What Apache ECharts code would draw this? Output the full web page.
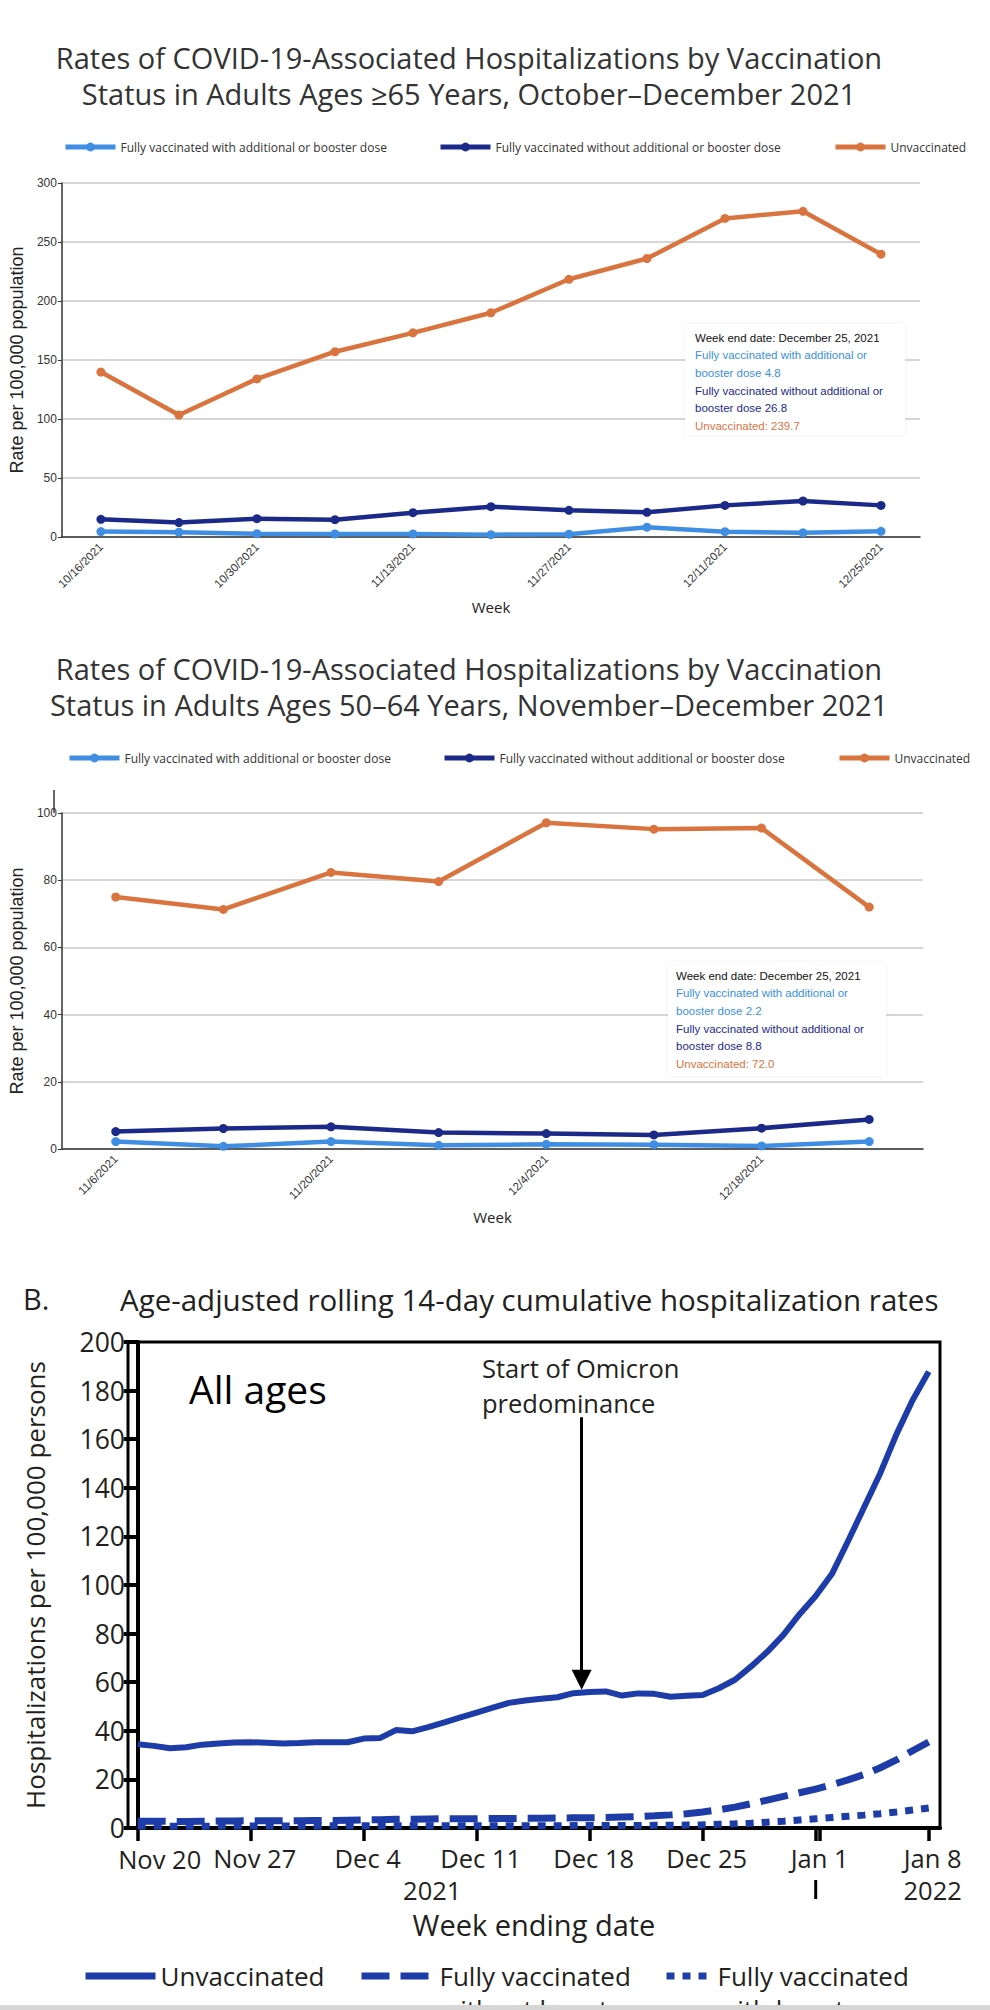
<!DOCTYPE html>
<html>
<head>
<meta charset="utf-8">
<script src="https://cdn.jsdelivr.net/npm/echarts@6/dist/echarts.min.js"></script>
<style>
html,body{margin:0;padding:0;background:#fff;}
#chart{width:990px;height:2010px;}
</style>
</head>
<body>
<div id="chart"></div>
<script>
// ---------- Chart 1: adults >=65 ----------
const cats65 = ['10/16/2021','10/23/2021','10/30/2021','11/6/2021','11/13/2021','11/20/2021','11/27/2021','12/4/2021','12/11/2021','12/18/2021','12/25/2021'];
const boost65 = [4.6, 4.1, 2.8, 2.6, 2.6, 2.0, 2.4, 8.3, 4.5, 3.5, 4.8];
const noBoost65 = [15.0, 12.2, 15.5, 14.7, 20.6, 25.7, 22.6, 20.9, 26.8, 30.5, 26.8];
const unvax65 = [139.8, 103.4, 134.0, 157.0, 173.0, 190.0, 218.4, 236.0, 270.0, 276.0, 239.7];

// ---------- Chart 2: adults 50-64 ----------
const cats50 = ['11/6/2021','11/13/2021','11/20/2021','11/27/2021','12/4/2021','12/11/2021','12/18/2021','12/25/2021'];
const boost50 = [2.2, 0.8, 2.2, 1.1, 1.4, 1.3, 0.9, 2.2];
const noBoost50 = [5.2, 6.1, 6.6, 4.9, 4.6, 4.2, 6.2, 8.8];
const unvax50 = [75.0, 71.3, 82.3, 79.6, 97.1, 95.2, 95.5, 72.0];

// ---------- Chart 3: all ages, daily (day 0 = Nov 20, 2021) ----------
const unvaxAll = [34.5,33.8,32.8,33.2,34.3,34.8,35.2,35.3,35.1,34.8,35.0,35.3,35.3,35.3,36.8,37.0,40.3,39.8,41.5,43.5,45.5,47.5,49.5,51.5,52.5,53.2,53.8,55.5,56.0,56.2,54.5,55.4,55.2,54.0,54.4,54.7,57.5,61.0,66.5,72.5,79.5,88.0,95.5,104.5,118.0,132.0,146.0,162.0,176.0,187.8];
const noBoostAll = [2.8,2.8,2.7,2.7,2.8,2.9,2.9,3.0,3.0,3.0,3.0,3.1,3.1,3.2,3.3,3.4,3.6,3.6,3.7,3.8,3.8,3.8,3.9,3.9,4.0,4.0,4.1,4.2,4.2,4.3,4.5,4.7,5.0,5.4,5.9,6.6,7.5,8.6,10.0,11.5,13.0,14.5,16.0,17.8,19.8,22.0,24.8,28.0,31.8,35.4];
const boostAll = [0.8,0.8,0.7,0.7,0.7,0.8,0.8,0.8,0.8,0.8,0.8,0.8,0.9,0.9,0.9,0.9,0.9,0.9,0.9,0.9,0.9,0.9,0.9,0.9,0.9,0.9,0.9,1.0,1.0,1.0,1.0,1.0,1.1,1.1,1.2,1.3,1.5,1.7,2.0,2.4,2.8,3.3,3.8,4.3,4.8,5.3,5.9,6.6,7.4,8.2];
const weekTickDays = [0,7,14,21,28,35,42,49];
const weekTickLabels = ['Nov 20','Nov 27','Dec 4','Dec 11','Dec 18','Dec 25','Jan 1','Jan 8'];
const yearLabels = [{day: 18, text: '2021'}, {day: 49, text: '2022'}];
const yearBreakDay = 42;
const omicronStartDay = 27.5;

const C_LIGHT = '#3f8ee4';
const C_NAVY = '#1b2a88';
const C_ORANGE = '#d9743f';
const C_BLUE3 = '#1d3ca8';

const NAME_A = 'Fully vaccinated with additional or booster dose';
const NAME_B = 'Fully vaccinated without additional or booster dose';
const NAME_C = 'Unvaccinated';
const NAME3 = ['Unvaccinated (all ages)', 'Fully vaccinated without booster', 'Fully vaccinated with booster'];

const chart = echarts.init(document.getElementById('chart'), null, {renderer: 'svg'});

const TXT = '#333';
const OS = 'Open Sans';
const HV = 'Liberation Sans';
const INK = '#231f20';
const XLAB_FONT = 25.5, XLAB_MARGIN = 17;

function lineSeries(name, data, color, xi) {
  return {
    name, type: 'line', xAxisIndex: xi, yAxisIndex: xi, data,
    symbol: 'circle', symbolSize: 9, showSymbol: true,
    lineStyle: {color, width: 4.5}, itemStyle: {color},
    emphasis: {disabled: true}, silent: true
  };
}
function topLegend(name, left, top) {
  return {
    show: true, data: [name], left, top, itemWidth: 50, itemHeight: 11, itemGap: 0,
    lineStyle: {width: 5},
    selectedMode: false, textStyle: {fontFamily: OS, fontSize: 12, color: TXT}, padding: 0
  };
}
function bottomLegend(name, label, left, w) {
  return {
    data: [name], left, top: 1963, itemWidth: w, itemHeight: 14, selectedMode: false, padding: 0,
    lineStyle: {width: 7}, itemStyle: {opacity: 0},
    formatter: () => label, textStyle: {fontFamily: OS, fontSize: 26, color: INK}
  };
}
function tipText(v1, v2, v3) {
  return '{h|Week end date: December 25, 2021}\n{a|Fully vaccinated with additional or}\n{a|booster dose ' + v1.toFixed(1) +
    '}\n{b|Fully vaccinated without additional or}\n{b|booster dose ' + v2.toFixed(1) + '}\n{c|Unvaccinated: ' + v3.toFixed(1) + '}';
}
const tipRich = {
  h: {fill: '#111', fontFamily: HV, fontSize: 11.5, lineHeight: 17.6},
  a: {fill: '#3a8fe0', fontFamily: HV, fontSize: 11.5, lineHeight: 17.6},
  b: {fill: '#1d2a8c', fontFamily: HV, fontSize: 11.5, lineHeight: 17.6},
  c: {fill: '#d9743f', fontFamily: HV, fontSize: 11.5, lineHeight: 17.6}
};

const last65 = cats65.length - 1, last50 = cats50.length - 1;

function catX(gi, catsArr, nameGap) {
  return {gridIndex: gi, type: 'category', data: catsArr, boundaryGap: true,
    axisLine: {lineStyle: {color: '#333', width: 1.5}},
    axisTick: {alignWithLabel: true, interval: 0, length: 5, lineStyle: {color: '#333'}},
    axisLabel: {interval: 1, rotate: 45, fontFamily: HV, fontSize: 11.5, color: TXT, margin: 8},
    name: 'Week', nameLocation: 'middle', nameGap,
    nameTextStyle: {fontFamily: OS, fontSize: 15, color: '#222'}};
}
function rateY(gi, max, interval) {
  return {gridIndex: gi, type: 'value', min: 0, max, interval,
    axisLine: {show: true, lineStyle: {color: '#333', width: 1.5}},
    axisTick: {show: true, length: 4, lineStyle: {color: '#333'}},
    axisLabel: {fontFamily: HV, fontSize: 12, color: TXT, margin: 5},
    splitLine: {lineStyle: {color: '#c8c8c8', width: 1.5}},
    name: 'Rate per 100,000 population', nameLocation: 'middle', nameGap: 24,
    nameTextStyle: {fontFamily: HV, fontSize: 18, color: '#222'}};
}

const option = {
  animation: false,
  backgroundColor: '#fff',
  title: [
    {text: 'Rates of COVID-19-Associated Hospitalizations by Vaccination\nStatus in Adults Ages \u226565 Years, October\u2013December 2021',
     left: 464, top: 34, textAlign: 'center',
     textStyle: {fontFamily: OS, fontSize: 29, fontWeight: 'normal', color: '#333', lineHeight: 36}},
    {text: 'Rates of COVID-19-Associated Hospitalizations by Vaccination\nStatus in Adults Ages 50\u201364 Years, November\u2013December 2021',
     left: 464, top: 645, textAlign: 'center',
     textStyle: {fontFamily: OS, fontSize: 29, fontWeight: 'normal', color: '#333', lineHeight: 36}},
    {text: 'B.', left: 18, top: 1279, textStyle: {fontFamily: OS, fontSize: 29, fontWeight: 'normal', color: INK}},
    {text: 'Age-adjusted rolling 14-day cumulative hospitalization rates', left: 115, top: 1279,
     textStyle: {fontFamily: OS, fontSize: 29.5, fontWeight: 'normal', color: INK}}
  ],
  legend: [
    topLegend(NAME_A, 63, 141),
    topLegend(NAME_B, 438, 141),
    topLegend(NAME_C, 833, 141),
    topLegend(NAME_A, 67, 752),
    topLegend(NAME_B, 442, 752),
    topLegend(NAME_C, 837, 752),
    bottomLegend(NAME3[0], 'Unvaccinated', 82, 70),
    bottomLegend(NAME3[1], 'Fully vaccinated', 358, 73),
    bottomLegend(NAME3[2], 'Fully vaccinated', 663, 46)
  ],
  grid: [
    {left: 52, top: 183, width: 868, height: 354},
    {left: 54, top: 813, width: 869, height: 336},
    {left: 128, top: 1342, width: 812, height: 486, show: true, borderColor: '#000', borderWidth: 3, backgroundColor: 'transparent'}
  ],
  xAxis: [
    catX(0, cats65, 62),
    catX(1, cats50, 60),
    {gridIndex: 2, type: 'value', min: -0.6, max: 49.7,
     axisLine: {onZero: false, lineStyle: {color: '#000', width: 4}},
     axisTick: {customValues: weekTickDays.concat([yearBreakDay + 0.25]), length: 13, lineStyle: {color: '#000', width: 3.5}},
     // first label (Nov 20) is placed separately, nudged right of its tick as in the original
     axisLabel: {customValues: weekTickDays.slice(1),
       formatter: v => '{n|' + weekTickLabels[weekTickDays.indexOf(v)] + '}',
       fontFamily: OS, fontSize: XLAB_FONT, color: INK, margin: XLAB_MARGIN,
       rich: {n: {fontFamily: OS, fontSize: XLAB_FONT, color: INK, padding: [0, 0, 0, 8]}}},
     splitLine: {show: false},
     name: 'Week ending date', nameLocation: 'middle', nameGap: 82,
     nameTextStyle: {fontFamily: OS, fontSize: 29, color: INK}}
  ],
  yAxis: [
    rateY(0, 300, 50),
    rateY(1, 100, 20),
    {gridIndex: 2, type: 'value', min: 0, max: 200, interval: 20,
     axisLine: {show: true, lineStyle: {color: '#000', width: 4}},
     axisTick: {show: true, length: 14, lineStyle: {color: '#000', width: 4}},
     axisLabel: {fontFamily: OS, fontSize: 26.5, color: INK, margin: 3},
     splitLine: {show: false},
     name: 'Hospitalizations per 100,000 persons', nameLocation: 'middle', nameGap: 80,
     nameTextStyle: {fontFamily: OS, fontSize: 26, color: INK}}
  ],
  series: [
    lineSeries(NAME_A, boost65, C_LIGHT, 0),
    lineSeries(NAME_B, noBoost65, C_NAVY, 0),
    lineSeries(NAME_C, unvax65, C_ORANGE, 0),
    lineSeries(NAME_A, boost50, C_LIGHT, 1),
    lineSeries(NAME_B, noBoost50, C_NAVY, 1),
    lineSeries(NAME_C, unvax50, C_ORANGE, 1),
    {name: NAME3[0], type: 'line', xAxisIndex: 2, yAxisIndex: 2, showSymbol: false, symbol: 'none', silent: true,
     data: unvaxAll.map((v, i) => i === unvaxAll.length - 1 ?
       {value: [i, v], label: {show: true, position: 'left', distance: 4, offset: [0, -11], formatter: v.toFixed(1), fontFamily: OS, fontSize: 24, color: INK}} : [i, v]),
     lineStyle: {color: C_BLUE3, width: 6}, itemStyle: {color: C_BLUE3},
     markLine: {silent: true, symbol: ['none', 'triangle'], symbolSize: 20, label: {show: false},
       lineStyle: {color: '#000', width: 3, type: 'solid'},
       data: [[{coord: [omicronStartDay, 169]}, {coord: [omicronStartDay, 61]}]]}},
    {name: NAME3[1], type: 'line', xAxisIndex: 2, yAxisIndex: 2, showSymbol: false, symbol: 'none', silent: true,
     data: noBoostAll.map((v, i) => i === noBoostAll.length - 1 ?
       {value: [i, v], label: {show: true, position: 'top', distance: 14, offset: [-18, 0], formatter: v.toFixed(1), fontFamily: OS, fontSize: 24, color: INK}} : [i, v]),
     lineStyle: {color: C_BLUE3, width: 7, type: [28, 11], cap: 'butt'}, itemStyle: {color: C_BLUE3}},
    {name: NAME3[2], type: 'line', xAxisIndex: 2, yAxisIndex: 2, showSymbol: false, symbol: 'none', silent: true,
     data: boostAll.map((v, i) => i === boostAll.length - 1 ?
       {value: [i, v], label: {show: true, position: 'top', distance: 8, offset: [-9, 0], formatter: v.toFixed(1), fontFamily: OS, fontSize: 24, color: INK}} : [i, v]),
     lineStyle: {color: C_BLUE3, width: 7, type: [8, 8], cap: 'butt'}, itemStyle: {color: C_BLUE3}}
  ]
};
chart.setOption(option);

// decorations placed through the axes' own scales
const y100 = chart.convertToPixel({yAxisIndex: 1}, 100);
const x3 = d => chart.convertToPixel({xAxisIndex: 2}, d);
const axis3Y = chart.convertToPixel({yAxisIndex: 2}, 0);
const graphics = [
  {type: 'group', left: 685, top: 324, z: 100, children: [
    {type: 'rect', z: 100, shape: {x: 0, y: 0, width: 220, height: 111},
     style: {fill: '#fff', shadowBlur: 4, shadowColor: 'rgba(0,0,0,0.06)'}},
    {type: 'text', z: 101, x: 10, y: 5, style: {text: tipText(boost65[last65], noBoost65[last65], unvax65[last65]), rich: tipRich}}
  ]},
  {type: 'group', left: 668, top: 962, z: 100, children: [
    {type: 'rect', z: 100, shape: {x: 0, y: 0, width: 218, height: 114},
     style: {fill: '#fff', shadowBlur: 4, shadowColor: 'rgba(0,0,0,0.06)'}},
    {type: 'text', z: 101, x: 8, y: 5, style: {text: tipText(boost50[last50], noBoost50[last50], unvax50[last50]), rich: tipRich}}
  ]},
  {type: 'line', shape: {x1: 54, y1: y100 - 23, x2: 54, y2: y100}, style: {stroke: '#333', lineWidth: 1.5}},
  {type: 'text', left: 189, top: 1369, style: {text: 'All ages', fontFamily: OS, fontSize: 39, fill: '#000'}},
  {type: 'text', left: 482, top: 1350, style: {text: 'Start of Omicron\npredominance', fontFamily: OS, fontSize: 25.5, lineHeight: 35, fill: INK}},
  {type: 'text', x: x3(weekTickDays[0]) + 22, y: axis3Y + XLAB_MARGIN + 1,
   style: {text: weekTickLabels[0], fontFamily: OS, fontSize: XLAB_FONT, fill: INK, align: 'center', verticalAlign: 'top'}},
  {type: 'line', shape: {x1: x3(yearBreakDay), y1: 1880, x2: x3(yearBreakDay), y2: 1899}, style: {stroke: '#000', lineWidth: 3}},
  {type: 'text', left: 440, top: 1996, style: {text: 'without booster', fontFamily: OS, fontSize: 26, fill: INK}},
  {type: 'text', left: 717, top: 1996, style: {text: 'with booster', fontFamily: OS, fontSize: 26, fill: INK}},
  {type: 'rect', left: 0, top: 2005, shape: {width: 990, height: 5}, style: {fill: '#d6d6d6'}, z: 200}
];
yearLabels.forEach(y => graphics.push({type: 'text', x: x3(y.day) + 4, y: 1890,
  style: {text: y.text, fontFamily: OS, fontSize: XLAB_FONT, fill: INK, align: 'center', verticalAlign: 'middle'}}));
chart.setOption({graphic: graphics});
</script>
</body>
</html>
